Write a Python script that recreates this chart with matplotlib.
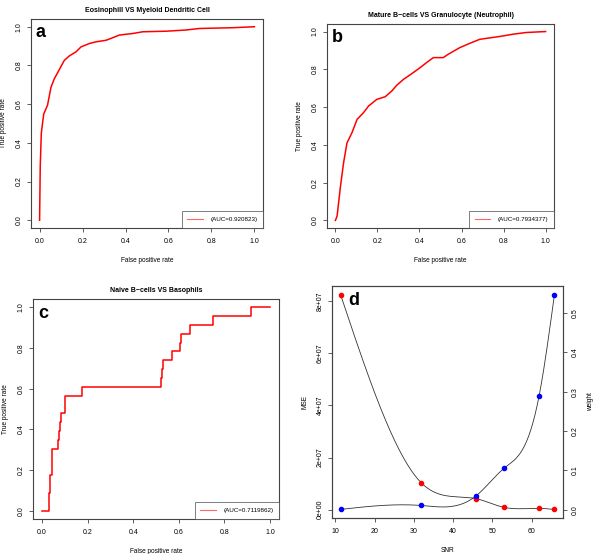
import matplotlib
matplotlib.use("Agg")
import matplotlib.pyplot as plt
import numpy as np
from matplotlib.lines import Line2D

plt.rcParams["font.family"] = ["Liberation Sans", "DejaVu Sans"]

# panel a: Eosinophill VS Myeloid Dendritic Cell
fpr_a = [0.0, 0.003, 0.008, 0.014, 0.019, 0.037, 0.053, 0.068, 0.115, 0.138, 0.169,
         0.193, 0.231, 0.262, 0.309, 0.34, 0.371, 0.433, 0.48, 0.59, 0.68, 0.744, 0.9, 1.0]
tpr_a = [0.0, 0.278, 0.45, 0.504, 0.548, 0.595, 0.687, 0.73, 0.826, 0.849, 0.87,
         0.896, 0.913, 0.922, 0.93, 0.943, 0.957, 0.965, 0.974, 0.977, 0.983, 0.991, 0.995, 1.0]
auc_a = "0.920823"

# panel b: Mature B-cells VS Granulocyte (Neutrophil)
fpr_b = [0.0, 0.008, 0.024, 0.039, 0.055, 0.079, 0.103, 0.134, 0.158, 0.197, 0.237,
         0.269, 0.292, 0.324, 0.371, 0.403, 0.434, 0.466, 0.513, 0.537, 0.592, 0.64,
         0.687, 0.782, 0.845, 0.908, 1.0]
tpr_b = [0.0, 0.023, 0.18, 0.306, 0.41, 0.465, 0.535, 0.571, 0.606, 0.641, 0.655,
         0.686, 0.716, 0.747, 0.783, 0.809, 0.836, 0.862, 0.862, 0.88, 0.915, 0.938,
         0.959, 0.974, 0.986, 0.995, 1.0]
auc_b = "0.7934377"

# panel c: Naive B-cells VS Basophils (step curve, 23 positives)
fpr_c = [0.0, 0.029, 0.035, 0.043, 0.068, 0.072, 0.079, 0.082, 0.099, 0.1, 0.175,
         0.521, 0.527, 0.532, 0.569, 0.607, 0.61, 0.65, 0.749, 0.915, 1.0]
tp_count_c = [0, 2, 4, 7, 8, 9, 10, 11, 12, 13, 14, 15, 16, 17, 18, 19, 20, 21, 22, 23, 23]
n_pos_c = 23
auc_c = "0.7119862"

# panel d: MSE and weight vs SNR
snr = [11.3, 31.8, 45.9, 52.9, 61.9, 65.8]
mse = [8.25e7, 1.04e7, 0.42e7, 0.09e7, 0.05e7, 0.01e7]
weight = [0.001, 0.011, 0.036, 0.105, 0.29, 0.547]


def natural_spline(x, y, n=200):
    x = np.asarray(x, float)
    y = np.asarray(y, float)
    k = len(x)
    h = np.diff(x)
    A = np.zeros((k, k))
    r = np.zeros(k)
    A[0, 0] = A[-1, -1] = 1
    for i in range(1, k - 1):
        A[i, i - 1] = h[i - 1]
        A[i, i] = 2 * (h[i - 1] + h[i])
        A[i, i + 1] = h[i]
        r[i] = 6 * ((y[i + 1] - y[i]) / h[i] - (y[i] - y[i - 1]) / h[i - 1])
    m = np.linalg.solve(A, r)
    xs = np.linspace(x[0], x[-1], n)
    idx = np.clip(np.searchsorted(x, xs) - 1, 0, k - 2)
    t0 = x[idx]
    t1 = x[idx + 1]
    hh = t1 - t0
    ys = (m[idx] * (t1 - xs) ** 3 / (6 * hh) + m[idx + 1] * (xs - t0) ** 3 / (6 * hh)
          + (y[idx] / hh - m[idx] * hh / 6) * (t1 - xs)
          + (y[idx + 1] / hh - m[idx + 1] * hh / 6) * (xs - t0))
    return xs, ys


W, H = 600, 554
fig = plt.figure(figsize=(W / 100, H / 100), dpi=100)


def rect(left, top, right, bottom):
    return [left / W, 1 - bottom / H, (right - left) / W, (bottom - top) / H]


frame_col = "#444444"
fs_tick = 5
fs_lab = 4.7


def style(ax):
    for s in ax.spines.values():
        s.set_color(frame_col)
        s.set_linewidth(0.8)
    ax.tick_params(direction="out", length=3, width=0.6, color=frame_col,
                   labelsize=fs_tick, pad=3)
    ax.tick_params(axis="x", pad=4.5)
    for lab in ax.get_yticklabels():
        lab.set_rotation(90)
        lab.set_va("center")


def roc_panel(ax, title, letter, auc, x, y, step=False):
    if step:
        ax.step(x, y, where="post", color="red", lw=1.1)
    else:
        ax.plot(x, y, color="red", lw=1.1)
    ax.set_xlim(-0.04, 1.04)
    ax.set_ylim(-0.04, 1.04)
    ticks = [0.0, 0.2, 0.4, 0.6, 0.8, 1.0]
    ax.set_xticks(ticks)
    ax.set_yticks(ticks)
    ax.set_xticklabels([f"{t:.1f}" for t in ticks])
    ax.set_yticklabels([f"{t:.1f}" for t in ticks])
    style(ax)
    ax.set_title(title, fontsize=5, fontweight="bold", pad=5)
    ax.set_xlabel("False positive rate", fontsize=fs_lab, labelpad=8)
    ax.set_ylabel("True positive rate", fontsize=fs_lab, labelpad=6)
    ax.text(0.02, 0.975, letter, transform=ax.transAxes, fontsize=13,
            fontweight="bold", va="top", ha="left")
    h = Line2D([], [], color="#ff6666", lw=0.8)
    leg = ax.legend([h], [f"(AUC={auc})"], loc="lower right", borderaxespad=0,
                    fontsize=4.5, fancybox=False, handlelength=2.5,
                    borderpad=0.9, handletextpad=1.2)
    leg.get_frame().set_edgecolor(frame_col)
    leg.get_frame().set_linewidth(0.6)


ax_a = fig.add_axes(rect(31, 19, 263, 228))
roc_panel(ax_a, "Eosinophill VS Myeloid Dendritic Cell", "a", auc_a, fpr_a, tpr_a)

ax_b = fig.add_axes(rect(327, 24, 554, 228))
roc_panel(ax_b, "Mature B\u2212cells VS Granulocyte (Neutrophil)", "b", auc_b, fpr_b, tpr_b)

ax_c = fig.add_axes(rect(33, 299, 279, 519))
tpr_c = [c / n_pos_c for c in tp_count_c]
roc_panel(ax_c, "Naive B\u2212cells VS Basophils", "c", auc_c, fpr_c, tpr_c, step=True)

# panel d
ax_d = fig.add_axes(rect(332, 286, 563, 518))
xs, ys = natural_spline(snr, mse)
ax_d.plot(xs, ys, color="#333333", lw=0.6)
ax_d.plot(snr, mse, "o", color="red", ms=3)
pad_x = 0.04 * (max(snr) - min(snr))
ax_d.set_xlim(min(snr) - pad_x, max(snr) + pad_x)
pad_m = 0.04 * (max(mse) - min(mse))
ax_d.set_ylim(min(mse) - pad_m, max(mse) + pad_m)
mticks = [0, 2e7, 4e7, 6e7, 8e7]
ax_d.set_yticks(mticks)
ax_d.set_yticklabels(["0e+00", "2e+07", "4e+07", "6e+07", "8e+07"])
ax_d.set_xticks([10, 20, 30, 40, 50, 60])
style(ax_d)
ax_d.set_xlabel("SNR", fontsize=fs_lab, labelpad=8)
ax_d.set_ylabel("MSE", fontsize=fs_lab, labelpad=6)
ax_d.text(0.07, 0.975, "d", transform=ax_d.transAxes, fontsize=13,
          fontweight="bold", va="top", ha="left")

ax_w = ax_d.twinx()
xs, ys = natural_spline(snr, weight)
ax_w.plot(xs, ys, color="#333333", lw=0.6)
ax_w.plot(snr, weight, "o", color="blue", ms=3)
pad_w = 0.04 * (max(weight) - min(weight))
ax_w.set_ylim(min(weight) - pad_w, max(weight) + pad_w)
wticks = [0.0, 0.1, 0.2, 0.3, 0.4, 0.5]
ax_w.set_yticks(wticks)
ax_w.set_yticklabels([f"{t:.1f}" for t in wticks])
style(ax_w)
ax_w.set_ylabel("weight", fontsize=fs_lab, labelpad=6, rotation=90)

fig.savefig("out.png", dpi=100)
